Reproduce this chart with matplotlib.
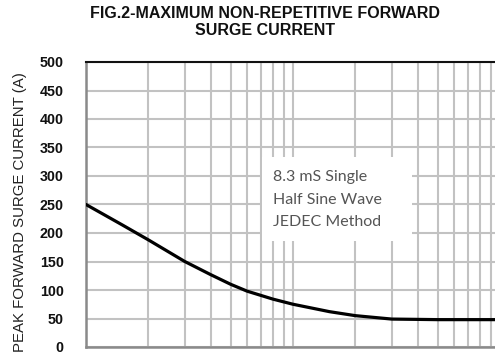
import matplotlib
matplotlib.use("Agg")
import matplotlib.pyplot as plt
from matplotlib.patches import Rectangle
from matplotlib.ticker import LogLocator, NullFormatter

# Data
cycles = [1, 1.5, 2, 3, 4, 5, 6, 8, 10, 15, 20, 30, 50, 100]
current = [250, 214, 188, 150, 127, 110, 98, 84, 75, 62, 55, 49, 48, 48]
y_ticks = [0, 50, 100, 150, 200, 250, 300, 350, 400, 450, 500]
title = "FIG.2-MAXIMUM NON-REPETITIVE FORWARD\nSURGE CURRENT"
ylabel = "PEAK FORWARD SURGE CURRENT (A)"
note = "8.3 mS Single\nHalf Sine Wave\nJEDEC Method"

W, H = 495, 354
fig = plt.figure(figsize=(W / 100, H / 100), dpi=100)
ax = fig.add_axes([86 / W, 1 - 347 / H, (500 - 86) / W, (347 - 62) / H])

ax.set_xscale("log")
ax.set_xlim(1, 100)
ax.set_ylim(0, 500)
ax.xaxis.set_major_locator(LogLocator(base=10, numticks=5))
ax.xaxis.set_minor_locator(LogLocator(base=10, subs=range(2, 10), numticks=20))
ax.xaxis.set_major_formatter(NullFormatter())
ax.xaxis.set_minor_formatter(NullFormatter())
ax.set_yticks(y_ticks)
ax.set_yticklabels([str(v) for v in y_ticks], fontsize=10.3, fontweight="bold",
                   family="Liberation Sans", color="#111111")
ax.tick_params(axis="x", which="both", length=0)
ax.tick_params(axis="y", length=0, pad=16)

grid_kw = dict(color="#c2c2c2", linewidth=1.5)
ax.grid(True, which="major", axis="both", **grid_kw)
ax.grid(True, which="minor", axis="x", **grid_kw)
ax.set_axisbelow(True)

for s in ["left", "bottom"]:
    ax.spines[s].set_color("#8a8a8a")
    ax.spines[s].set_linewidth(1.8)
ax.spines["top"].set_color("#111111")
ax.spines["top"].set_linewidth(1.5)
ax.spines["right"].set_visible(False)

ax.plot(cycles, current, color="black", linewidth=2.3, solid_capstyle="round",
        solid_joinstyle="round", zorder=3)

# note box
ax.add_patch(Rectangle((0.425, 0.371), 0.362, 0.297, transform=ax.transAxes,
                       facecolor="white", edgecolor="none", zorder=2.5))
ax.text(0.452, 0.517, note, transform=ax.transAxes, fontsize=11.5, family="Lato",
        color="#555555", va="center", ha="left", linespacing=1.75, zorder=4)

fig.text(265 / W, 1 - 22 / H, title, ha="center", va="center", fontsize=11.5,
         fontweight="bold", family="Liberation Sans", color="#111111", linespacing=1.12)
fig.text(20 / W, 1 - 212 / H, ylabel, rotation=90, ha="center", va="center",
         fontsize=10.8, family="Liberation Sans", color="#222222")

fig.savefig("out.png", dpi=100)
